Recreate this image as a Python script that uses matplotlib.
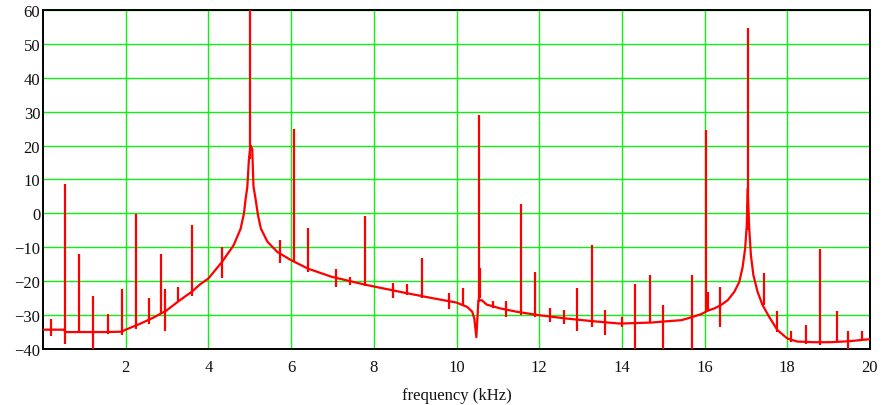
import numpy as np
import matplotlib
matplotlib.use("Agg")
import matplotlib.pyplot as plt

plt.rcParams['font.family'] = ['Liberation Serif', 'DejaVu Serif']

# baseline response (kHz, dB)
base_f = [0.0, 0.50, 0.55, 1.0, 1.5, 1.9, 2.0, 2.34, 2.66, 2.98, 3.30, 3.62, 3.78,
          4.0, 4.33, 4.61, 4.78, 4.86, 4.90, 4.94, 4.98, 5.02, 5.06, 5.09, 5.14,
          5.20, 5.27, 5.43, 5.67, 6.0, 6.41, 6.98, 7.78, 8.66, 9.46, 10.0, 10.26,
          10.38, 10.43, 10.48, 10.53, 10.61, 10.73, 11.05, 11.45, 11.98, 12.65,
          13.3, 13.95, 14.71, 15.11, 15.44, 15.72, 15.92, 16.06, 16.24, 16.4,
          16.56, 16.72, 16.84, 16.92, 16.98, 17.02, 17.04, 17.08, 17.12, 17.18,
          17.28, 17.4, 17.56, 17.76, 18.0, 18.24, 18.64, 19.04, 19.5, 20.0]
base_db = [-34.3, -34.3, -35.0, -35.0, -35.0, -34.9, -34.3, -32.6, -30.8, -28.7,
           -25.7, -22.9, -21.1, -19.2, -14.3, -9.4, -4.5, 0.0, 4.3, 7.6, 16.0,
           20.0, 19.0, 8.0, 4.3, -0.6, -4.5, -8.4, -11.4, -13.8, -16.3, -18.7,
           -21.0, -23.2, -25.1, -26.3, -27.6, -29.0, -31.0, -36.5, -25.6, -25.6,
           -26.9, -28.0, -29.0, -30.0, -31.0, -31.8, -32.5, -32.2, -31.8, -31.5,
           -30.5, -29.7, -28.8, -28.0, -27.0, -25.6, -23.1, -20.2, -15.8, -10.4,
           -3.5, 7.3, -4.5, -12.4, -18.2, -23.1, -27.0, -30.5, -34.4, -36.9,
           -37.8, -38.0, -38.0, -37.7, -37.1]

# narrow spectral lines: frequency, top and bottom of each stroke
spike_f = [0.19, 0.53, 0.87, 1.20, 1.57, 1.90, 2.24, 2.56, 2.86, 2.94, 3.27, 3.61,
           4.33, 5.00, 5.74, 6.08, 6.41, 7.09, 7.43, 7.79, 8.46, 8.80, 9.16, 9.83,
           10.16, 10.54, 10.57, 10.88, 11.20, 11.55, 11.89, 12.25, 12.59, 12.92,
           13.27, 13.59, 14.00, 14.32, 14.67, 14.99, 15.70, 16.03, 16.08, 16.37,
           17.05, 17.43, 17.76, 18.08, 18.46, 18.80, 19.21, 19.47, 19.81]
spike_hi = [-31.1, 8.6, -11.9, -24.4, -29.8, -22.2, -0.2, -24.9, -11.9, -22.2,
            -21.7, -3.4, -9.9, 80.0, -7.9, 24.9, -4.3, -16.3, -18.7, -0.7, -20.4,
            -20.7, -13.3, -23.4, -21.9, 29.1, -16.0, -25.9, -25.9, 2.8, -17.2,
            -27.9, -28.4, -21.9, -9.4, -28.6, -30.5, -20.7, -18.2, -27.1, -18.2,
            24.6, -23.2, -21.7, 54.7, -17.7, -28.9, -34.8, -32.8, -10.5, -28.9,
            -34.8, -34.8]
spike_lo = [-36.2, -38.6, -35.0, -40.5, -35.5, -35.8, -34.0, -32.5, -29.5, -34.7,
            -26.0, -24.5, -19.0, 16.0, -14.5, -14.0, -17.4, -21.7, -21.0, -21.4,
            -25.1, -24.1, -25.1, -28.3, -27.3, -26.0, -25.0, -28.0, -30.5, -30.0,
            -30.5, -32.0, -32.5, -34.8, -33.5, -36.0, -33.5, -41.0, -32.2, -41.0,
            -41.0, -29.0, -28.8, -33.5, -5.0, -27.0, -35.0, -37.8, -38.5, -38.9,
            -38.0, -40.1, -37.5]

red = '#ff0000'
green = '#11ee11'

fig = plt.figure(figsize=(8.82, 4.06), dpi=100)
ax = fig.add_axes([43 / 882, 1 - 350 / 406, 827 / 882, 339 / 406])

ax.plot(base_f, base_db, color=red, lw=1.6, zorder=3)
ax.vlines(spike_f, spike_lo, spike_hi, color=red, lw=1.6, zorder=3)

ax.set_xlim(0, 20)
ax.set_ylim(-40, 60)
ax.set_xticks(np.arange(2, 21, 2))
ax.set_yticks(np.arange(-40, 61, 10))
ax.grid(True, color=green, lw=1.0, zorder=1)
ax.set_axisbelow(True)
ax.tick_params(length=0, labelsize=12, colors='#111111')
ax.tick_params(axis='x', pad=7)
ax.tick_params(axis='y', pad=2)
for s in ax.spines.values():
    s.set_linewidth(1.4)
    s.set_color('black')

ax.set_xlabel('frequency (kHz)', fontsize=12, labelpad=8.5, color='#111111')

fig.savefig('out.png', dpi=100)
